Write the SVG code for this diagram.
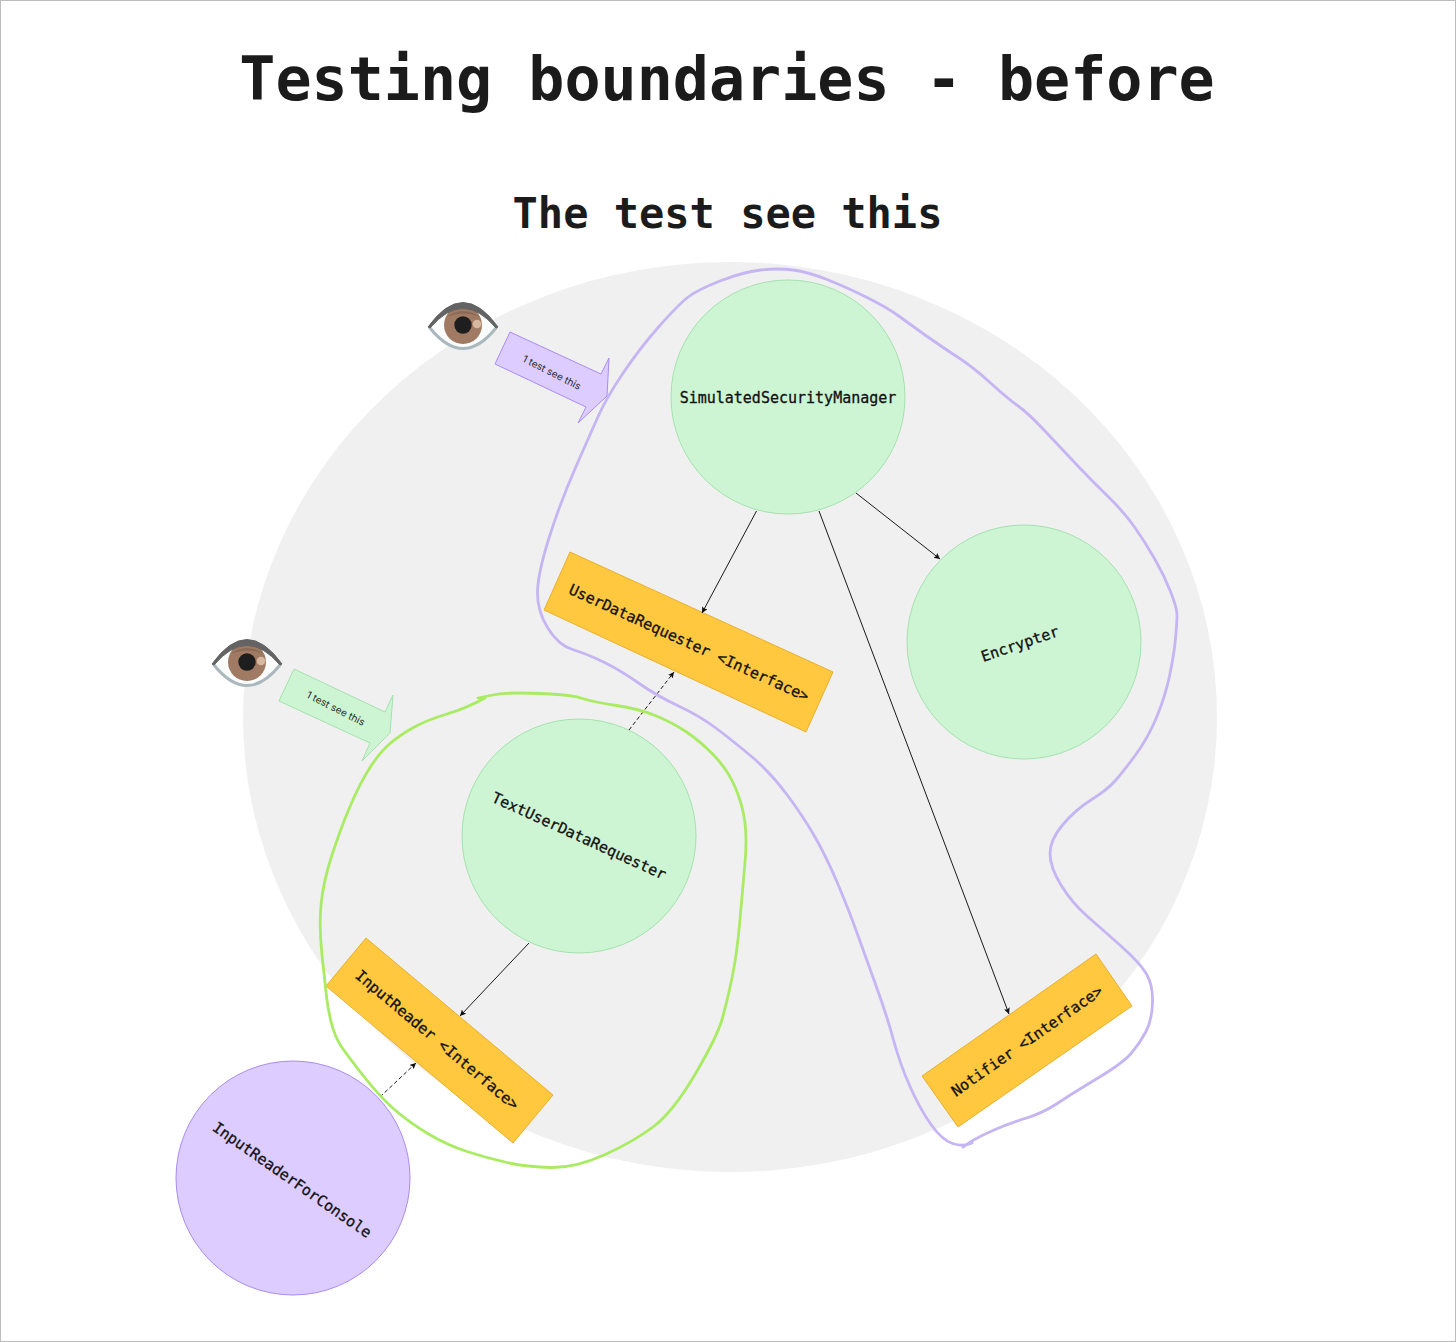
<svg xmlns="http://www.w3.org/2000/svg" xmlns:xlink="http://www.w3.org/1999/xlink" width="1456" height="1342" viewBox="0 0 1456 1342">
<style>
.mono{font-family:"DejaVu Sans Mono","Liberation Mono",monospace;fill:#111}
.title{font-weight:700;text-anchor:middle;fill:#1b1b1b}
.lab{font-size:15px;text-anchor:middle;dominant-baseline:central;stroke:#111;stroke-width:.3}
.g{fill:#CDF5D4;stroke:#A4E2AE;stroke-width:1}
.p{fill:#DCCCFF;stroke:#A98CF0;stroke-width:1}
.o{fill:#FFC83F;stroke:#E8B030;stroke-width:1}
.call{font-family:Inter,"Noto Sans",sans-serif;font-size:10px;fill:#2b2b2b;text-anchor:middle;dominant-baseline:central}
.c{fill:none;stroke:#1a1a1a;stroke-width:1;marker-end:url(#ah)}
.d{stroke-dasharray:4 2.5}
.sq{fill:none;stroke-width:2.8;stroke-linecap:round;stroke-linejoin:round}
</style>
<defs>
<marker id="ah" markerUnits="userSpaceOnUse" markerWidth="8" markerHeight="8" refX="6" refY="3" orient="auto"><path d="M0 0L6 3L0 6L1.2 3Z" fill="#111"/></marker>
<g id="eye">
<path d="M-33 0Q0-44 33 0Q0 42-33 0Z" fill="#FAFBFB"/>
<circle cx="0" cy="-2" r="19" fill="#A07A62"/>
<path d="M-17-10Q0-22 17-10Q0-17-17-10Z" fill="#8A6A57"/>
<circle cx="0" cy="-2" r="8.7" fill="#1E1E1E"/>
<circle cx="14" cy="-3" r="4.3" fill="#D9B8A2"/>
<path d="M-33 1Q0 42 33 1" fill="none" stroke="#AAB8BD" stroke-width="3" stroke-linecap="round"/>
<path d="M-35 0Q0-49 35 0L33 1Q0-38-33 1Z" fill="#636363" stroke="#636363" stroke-width="1" stroke-linejoin="round"/>
</g>
</defs>
<rect x="0" y="0" width="1456" height="1342" fill="#fff"/>
<rect x=".5" y=".5" width="1455" height="1341" fill="none" stroke="#BDBDBD" stroke-width="1"/>
<text class="mono title" x="727" y="100" font-size="60">Testing boundaries - before</text>
<text class="mono title" x="727.5" y="228" font-size="42">The test see this</text>
<ellipse cx="730" cy="717" rx="487" ry="455" fill="#F0F0F0"/>

<g id="SimulatedSecurityManager"><circle class="g" cx="788" cy="397" r="117"/><text class="mono lab" x="788" y="398">SimulatedSecurityManager</text></g>
<g id="Encrypter"><circle class="g" cx="1024" cy="642" r="117"/><text class="mono lab" transform="translate(1020 644) rotate(-19)">Encrypter</text></g>
<g id="TextUserDataRequester"><circle class="g" cx="579" cy="836" r="117"/><text class="mono lab" transform="translate(579 836) rotate(24.5)">TextUserDataRequester</text></g>
<g id="InputReaderForConsole"><circle class="p" cx="293" cy="1178" r="117"/><text class="mono lab" transform="translate(292 1180) rotate(35)">InputReaderForConsole</text></g>
<g id="UserDataRequester"><path class="o" d="M570 552L833 672L806 732L544 610Z"/><text class="mono lab" transform="translate(689 643) rotate(24.5)">UserDataRequester &lt;Interface&gt;</text></g>
<g id="InputReader"><path class="o" d="M366 938L553 1095L513 1143L326 986Z"/><text class="mono lab" transform="translate(437 1040) rotate(40)">InputReader &lt;Interface&gt;</text></g>
<g id="Notifier"><path class="o" d="M1096 954L1132 1006L958 1127L922 1076Z"/><text class="mono lab" transform="translate(1027 1041) rotate(-35)">Notifier &lt;Interface&gt;</text></g>

<g id="connectors">
<path class="c" d="M756.5 511L702 613"/>
<path class="c" d="M856 493L940 559"/>
<path class="c" d="M819 511L1009 1014"/>
<path class="c d" d="M629 730L674 672"/>
<path class="c" d="M529 943L460 1016"/>
<path class="c d" d="M380 1097L416 1063"/>
</g>

<g id="eye-purple"><use href="#eye" transform="translate(463 327)"/></g>
<g id="eye-green"><use href="#eye" transform="translate(247 664)"/></g>
<g id="callout-purple"><path class="p" stroke-width=".8" d="M510 332L601 374L609 358L607 396L578 423L586 407L495 364Z"/><text class="call" transform="translate(552 372) rotate(27)">1 test see this</text></g>
<g id="callout-green"><path class="g" d="M294 669L385 712L393 695L390 733L362 761L370 743L279 701Z"/><text class="call" transform="translate(336 708) rotate(27)">1 test see this</text></g>

<g id="outlines">
<path class="sq" stroke="#C5B5F2" d="M963 1147L970.5 1142Q978 1137 994 1130Q1010 1123 1026.5 1118Q1043 1113 1058 1103Q1073 1093 1098 1078Q1123 1063 1131.5 1053Q1140 1043 1146 1031.5Q1152 1020 1152.5 1002.5Q1153 985 1146.5 974Q1140 963 1121.5 946.5Q1103 930 1087.5 916.5Q1072 903 1061 885Q1050 867 1050 853.5Q1050 840 1062.5 825Q1075 810 1091 800Q1107 790 1115 781Q1123 772 1135.5 755Q1148 738 1156.5 717.5Q1165 697 1169.5 676Q1174 655 1175.5 638.5Q1177 622 1177 615Q1177 608 1170.5 591.5Q1164 575 1154.5 558.5Q1145 542 1134.5 527Q1124 512 1107.5 496Q1091 480 1076 464Q1061 448 1044.5 430.5Q1028 413 1017.5 405.5Q1007 398 990 382.5Q973 367 957.5 357Q942 347 926.5 336Q911 325 899.5 316.5Q888 308 867 297.5Q846 287 827 279.5Q808 272 793 270Q778 268 760.5 270Q743 272 720 281Q697 290 687.5 297.5Q678 305 659 326.5Q640 348 623.5 372.5Q607 397 599.5 413.5Q592 430 576 466.5Q560 503 549 538Q538 573 537.5 591.5Q537 610 547.5 627.5Q558 645 572.5 649.5Q587 654 603.5 662Q620 670 638.5 683Q657 696 678.5 706Q700 716 716.5 728.5Q733 741 751.5 756.5Q770 772 786.5 794Q803 816 815 837Q827 858 838.5 885.5Q850 913 858.5 937Q867 961 877 988.5Q887 1016 893.5 1040Q900 1064 910 1086.5Q920 1109 931 1124.5Q942 1140 952.5 1143.5Q963 1147 972 1143"/>
<path class="sq" stroke="#A9EC63" d="M478 698L490 695.5Q503 693 516.5 693Q530 693 551 694Q572 695 582.5 698.5Q593 702 616.5 705.5Q640 709 656.5 716Q673 723 686.5 732Q700 741 714 755.5Q728 770 735.5 788Q743 806 745 823Q747 840 745 862.5Q743 885 740 919.5Q737 954 732 978Q727 1002 722 1019.5Q717 1037 695 1074.5Q673 1112 653 1127Q633 1142 604 1155Q575 1168 551 1167.5Q527 1167 507 1162.5Q487 1158 467 1151.5Q447 1145 428.5 1134Q410 1123 395 1110Q380 1097 363.5 1076Q347 1055 341 1046Q335 1037 331.5 1023.5Q328 1010 326.5 996.5Q325 983 322 955Q319 927 321 905Q323 883 331.5 856.5Q340 830 350 806.5Q360 783 370 767.5Q380 752 390 743.5Q400 735 413.5 727.5Q427 720 447 714Q467 708 485 698"/>
</g>
</svg>
